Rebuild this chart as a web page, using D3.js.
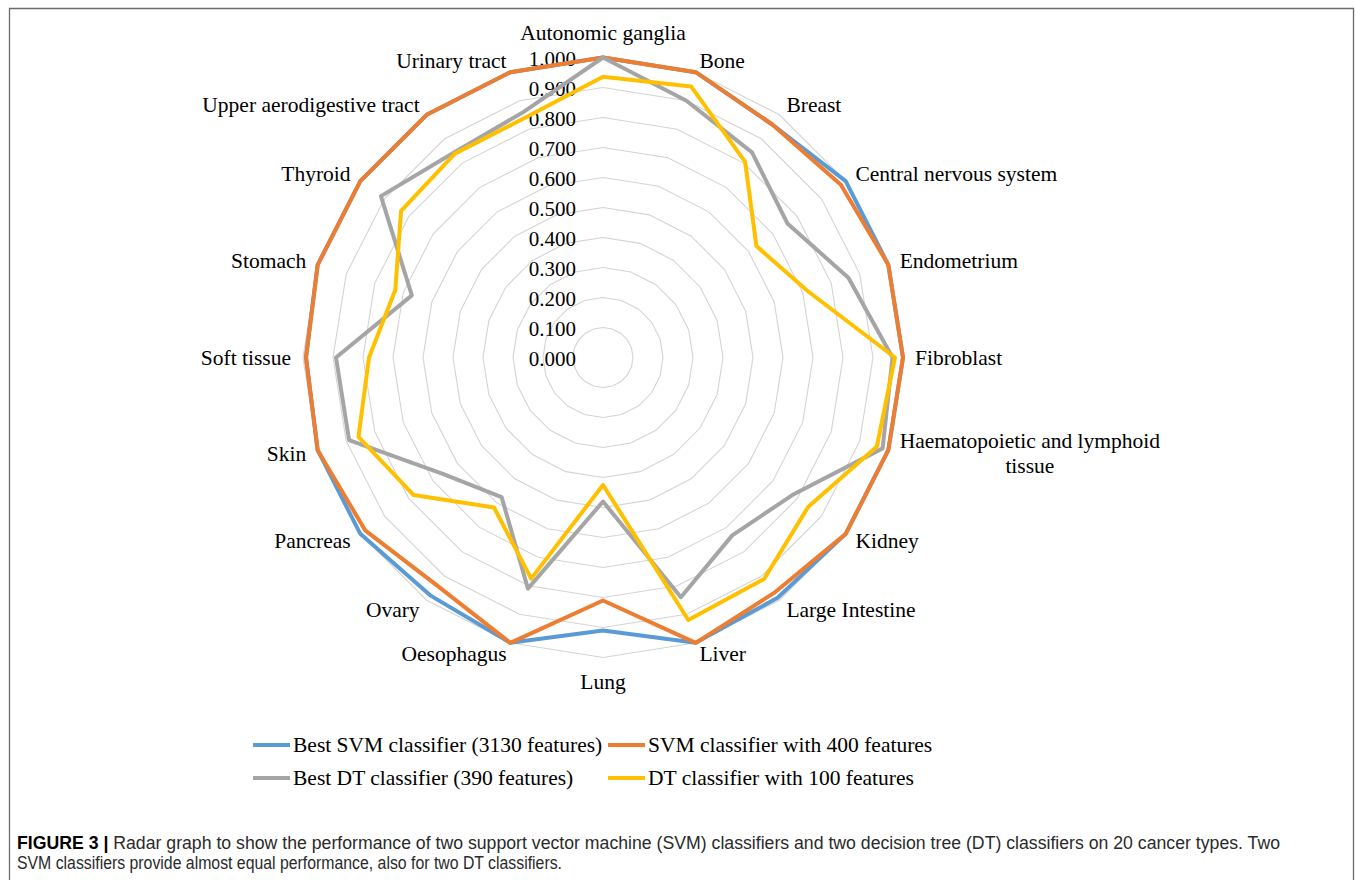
<!DOCTYPE html>
<html>
<head>
<meta charset="utf-8">
<script src="https://cdn.jsdelivr.net/npm/d3@7"></script>
<style>
  html, body { margin: 0; padding: 0; background: #fff; }
  svg { display: block; }
</style>
</head>
<body>
<svg id="chart" width="1355" height="880"></svg>
<script>
// Cancer types, clockwise from the top
const categories = [
  "Autonomic ganglia", "Bone", "Breast", "Central nervous system", "Endometrium",
  "Fibroblast", "Haematopoietic and lymphoid tissue", "Kidney", "Large Intestine", "Liver",
  "Lung", "Oesophagus", "Ovary", "Pancreas", "Skin",
  "Soft tissue", "Stomach", "Thyroid", "Upper aerodigestive tract", "Urinary tract"
];

// Per-cancer-type performance of each classifier
const bestSvm = [1.00, 1.00, 0.96, 1.00, 1.00, 1.00, 1.00, 1.00, 0.99, 1.00,
                 0.91, 1.00, 0.98, 1.00, 1.00, 0.99, 1.00, 1.00, 1.00, 1.00];
const svm400  = [1.00, 1.00, 0.96, 0.98, 1.00, 1.00, 1.00, 1.00, 0.97, 1.00,
                 0.81, 1.00, 0.94, 0.98, 1.00, 0.99, 1.00, 1.00, 1.00, 1.00];
const bestDt  = [1.00, 0.90, 0.845, 0.76, 0.86, 0.965, 0.98, 0.78, 0.733, 0.84,
                 0.48, 0.81, 0.575, 0.66, 0.89, 0.89, 0.67, 0.915, 0.845, 0.86];
const dt100   = [0.936, 0.95, 0.806, 0.632, 0.717, 0.973, 0.96, 0.846, 0.913, 0.92,
                 0.425, 0.775, 0.618, 0.78, 0.857, 0.78, 0.728, 0.832, 0.84, 0.84];

const seriesNames = [
  "Best SVM classifier (3130 features)",
  "SVM classifier with 400 features",
  "Best DT classifier (390 features)",
  "DT classifier with 100 features"
];
const seriesColors = ["#5B9BD5", "#ED7D31", "#A5A5A5", "#FFC000"];

// Radial axis ticks
const tickValues = [0, 0.1, 0.2, 0.3, 0.4, 0.5, 0.6, 0.7, 0.8, 0.9, 1.0];

const captionBold = "FIGURE 3 |";
const captionLines = [
  " Radar graph to show the performance of two support vector machine (SVM) classifiers and two decision tree (DT) classifiers on 20 cancer types. Two",
  "SVM classifiers provide almost equal performance, also for two DT classifiers."
];

const seriesData = [bestSvm, svm400, bestDt, dt100];

const svg = d3.select("#chart");
const serif = "'Liberation Serif', 'Times New Roman', serif";
const sans = "'Liberation Sans', Arial, sans-serif";

// outer frame (open at the bottom)
svg.append("path")
  .attr("d", "M9.5,890 V8.5 H1353.5 V890")
  .attr("fill", "none")
  .attr("stroke", "#6b6b6b")
  .attr("stroke-width", 1.3);

const cx = 603, cy = 357.5, R = 300;
const n = categories.length;

const rScale = d3.scaleLinear().domain([0, 1]).range([0, R]);
const aScale = d3.scaleLinear().domain([0, n]).range([0, 2 * Math.PI]);

const g = svg.append("g").attr("transform", `translate(${cx},${cy})`);

const radial = d3.lineRadial()
  .angle((d, i) => aScale(i))
  .radius(d => rScale(d))
  .curve(d3.curveLinearClosed);

// grid rings
g.append("g").selectAll("path")
  .data(tickValues.filter(t => t > 0))
  .join("path")
  .attr("d", t => radial(categories.map(() => t)))
  .attr("fill", "none")
  .attr("stroke", "#d4d4d4")
  .attr("stroke-width", 1.1);

// tick labels along the top axis
g.append("g").selectAll("text")
  .data(tickValues)
  .join("text")
  .attr("x", -27)
  .attr("y", t => -rScale(t) + 1)
  .attr("text-anchor", "end")
  .attr("dominant-baseline", "central")
  .attr("font-family", serif)
  .attr("font-size", 21)
  .attr("fill", "#000")
  .text(d3.format(".3f"));

// category labels
const labelR = R + 12;
const labelSize = 21.5;
const labelG = g.append("g");
const lineH = 25;
categories.forEach((name, i) => {
  const a = aScale(i);
  const s = Math.sin(a), c = Math.cos(a);
  const x = labelR * s, y = -labelR * c;
  const t = labelG.append("text")
    .attr("font-family", serif)
    .attr("font-size", labelSize)
    .attr("fill", "#000");
  // greedy word wrap
  const words = name.split(" ");
  const lines = [];
  let cur = "";
  const probe = labelG.append("text").attr("font-family", serif).attr("font-size", labelSize);
  words.forEach(w => {
    const test = cur ? cur + " " + w : w;
    probe.text(test);
    if (cur && probe.node().getComputedTextLength() > 275) { lines.push(cur); cur = w; }
    else cur = test;
  });
  lines.push(cur);
  const widths = lines.map(l => { probe.text(l); return probe.node().getComputedTextLength(); });
  probe.remove();
  const blockW = d3.max(widths);
  const blockH = lines.length * lineH;
  let left;
  if (s > 0.01) left = x;
  else if (s < -0.01) left = x - blockW;
  else left = x - blockW / 2;
  let top;
  if (Math.abs(s) <= 0.01) top = c > 0 ? y - blockH : y;
  else top = y - blockH / 2;
  lines.forEach((l, k) => {
    t.append("tspan")
      .attr("x", left + blockW / 2)
      .attr("y", top + lineH * k + lineH / 2)
      .attr("text-anchor", "middle")
      .attr("dominant-baseline", "central")
      .text(l);
  });
});

// series lines
g.append("g").selectAll("path")
  .data(seriesData)
  .join("path")
  .attr("d", d => radial(d))
  .attr("fill", "none")
  .attr("stroke", (d, i) => seriesColors[i])
  .attr("stroke-width", 4)
  .attr("stroke-linejoin", "round");

// legend
const legendPos = [[253, 745], [608, 745], [253, 778], [608, 778]];
const legend = svg.append("g");
seriesNames.forEach((name, i) => {
  const [lx, ly] = legendPos[i];
  legend.append("line")
    .attr("x1", lx).attr("x2", lx + 37)
    .attr("y1", ly).attr("y2", ly)
    .attr("stroke", seriesColors[i])
    .attr("stroke-width", 4);
  legend.append("text")
    .attr("x", lx + 40)
    .attr("y", ly)
    .attr("dominant-baseline", "central")
    .attr("font-family", serif)
    .attr("font-size", labelSize)
    .attr("fill", "#000")
    .text(name);
});

// caption
const cap1 = svg.append("text")
  .attr("x", 17).attr("y", 849)
  .attr("font-family", sans)
  .attr("font-size", 17.5)
  .attr("fill", "#2a2a2a")
  .attr("textLength", 1263)
  .attr("lengthAdjust", "spacingAndGlyphs");
cap1.append("tspan").attr("font-weight", "bold").attr("fill", "#000").text(captionBold);
cap1.append("tspan").text(captionLines[0]);

svg.append("text")
  .attr("x", 17).attr("y", 869)
  .attr("font-family", sans)
  .attr("font-size", 17.5)
  .attr("fill", "#2a2a2a")
  .attr("textLength", 545)
  .attr("lengthAdjust", "spacingAndGlyphs")
  .text(captionLines[1]);
</script>
</body>
</html>
